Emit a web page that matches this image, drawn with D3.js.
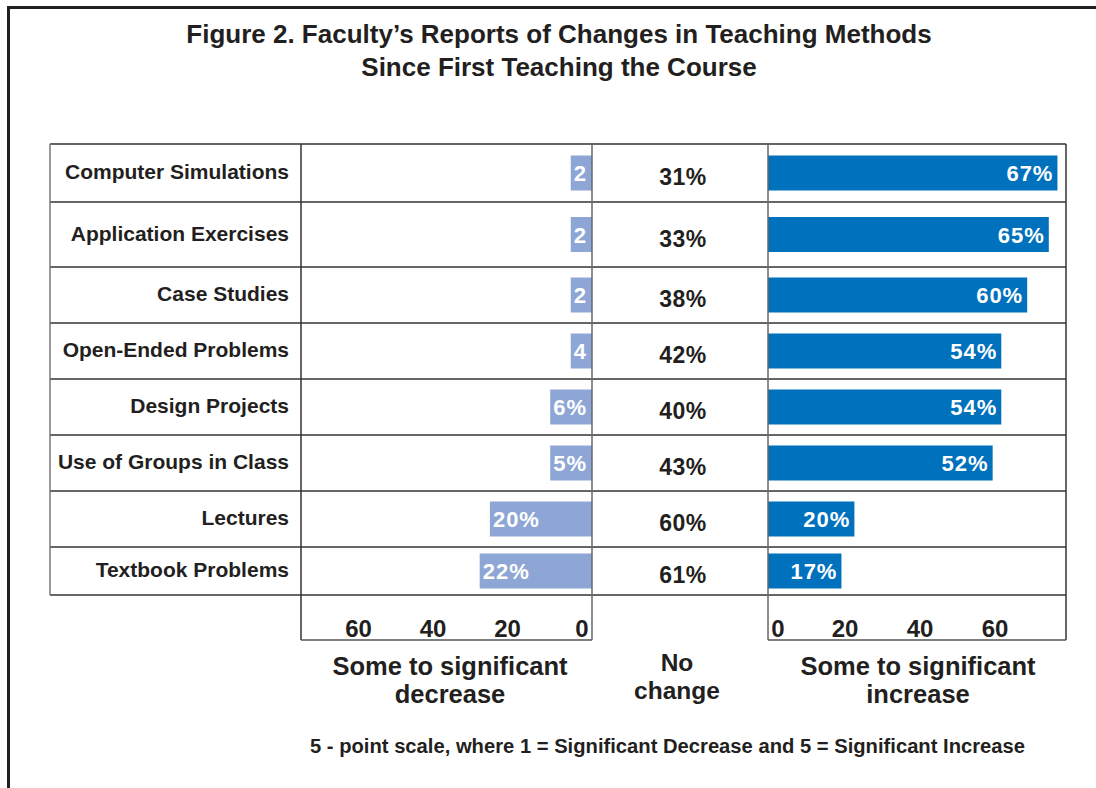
<!DOCTYPE html>
<html>
<head>
<meta charset="utf-8">
<script src="https://cdn.jsdelivr.net/npm/d3@7"></script>
<style>
  html, body { margin: 0; padding: 0; background: #fff; }
  svg { display: block; font-family: "Liberation Sans", Arial, Helvetica, sans-serif; }
</style>
</head>
<body>
<svg id="chart" width="1096" height="788"></svg>
<script>
// ---- data ----
const categories = ["Computer Simulations", "Application Exercises", "Case Studies", "Open-Ended Problems",
                    "Design Projects", "Use of Groups in Class", "Lectures", "Textbook Problems"];
const decreaseValues = [2, 2, 2, 4, 6, 5, 20, 22];
const decreaseLabels = ["2", "2", "2", "4", "6%", "5%", "20%", "22%"];
const noChangeValues = [31, 33, 38, 42, 40, 43, 60, 61];
const increaseValues = [67, 65, 60, 54, 54, 52, 20, 17];
const axisTicks = [0, 20, 40, 60];
const title = ["Figure 2. Faculty\u2019s Reports of Changes in Teaching Methods", "Since First Teaching the Course"];
const footnote = "5 - point scale, where 1 = Significant Decrease and 5 = Significant Increase";

// ---- layout ----
const W = 1096, H = 788;
const tableTop = 144;
const rowWeights = [58, 65, 56, 56, 56, 56, 56, 48];
const edges = [tableTop, ...Array.from(d3.cumsum(rowWeights), d => tableTop + d)];
const tableBottom = edges[edges.length - 1];
const axisBottom = 640;
const xLabelRight = 289, xLeftPanel = 301, xZero = 592, xMidRight = 768, xRightEnd = 1066, xTableLeft = 50;
const barH = 35;
const ink = "#231f20";
const lineCol = "#333";
const colDec = "#8ea6d5";
const colInc = "#0071bc";

const svg = d3.select("#chart");

const yCenter = d3.scaleOrdinal().domain(categories)
  .range(categories.map((c, i) => (edges[i] + edges[i + 1]) / 2));

// bar scales
const xDec = d3.scaleLinear().domain([0, 57]).range([xZero, xLeftPanel]);
const xInc = d3.scaleLinear().domain([0, 70]).range([xMidRight, xMidRight + 70 * 4.32]);
// axis label scales (as printed in the reference)
const xDecAxis = d3.scaleLinear().domain([0, 60]).range([582, 358.5]);
const xIncAxis = d3.scaleLinear().domain([0, 60]).range([770, 995]);

// ---- outer frame ----
svg.append("line").attr("x1", 8).attr("x2", W).attr("y1", 7.5).attr("y2", 7.5)
  .attr("stroke", ink).attr("stroke-width", 3);
svg.append("line").attr("x1", 8.5).attr("x2", 8.5).attr("y1", 6).attr("y2", H)
  .attr("stroke", ink).attr("stroke-width", 3);

// ---- title ----
svg.selectAll("text.title").data(title).join("text")
  .attr("class", "title")
  .attr("x", 559).attr("y", (d, i) => 43 + i * 33)
  .attr("text-anchor", "middle")
  .attr("font-size", 26).attr("font-weight", "bold").attr("fill", ink)
  .text(d => d);

// ---- left bars (decrease) ----
const gDec = svg.append("g");
const decG = gDec.selectAll("g").data(categories).join("g");
const decText = decG.append("text")
  .attr("y", c => yCenter(c) + 8)
  .attr("font-size", 22).attr("font-weight", "bold").attr("fill", "#fff")
  .attr("letter-spacing", 1)
  .text((c, i) => decreaseLabels[i]);
decText.each(function(c, i) {
  const tw = this.getComputedTextLength();
  const w = Math.max(xZero - xDec(decreaseValues[i]), tw + 8);
  const x0 = xZero - w;
  d3.select(this.parentNode).insert("rect", "text")
    .attr("x", x0).attr("y", yCenter(c) - barH / 2).attr("width", w).attr("height", barH)
    .attr("fill", colDec);
  d3.select(this).attr("x", x0 + 3);
});

// ---- right bars (increase) ----
const gInc = svg.append("g");
gInc.selectAll("rect").data(categories).join("rect")
  .attr("x", xInc(0)).attr("y", c => yCenter(c) - barH / 2)
  .attr("width", (c, i) => Math.min(xInc(increaseValues[i]), xRightEnd) - xInc(0)).attr("height", barH)
  .attr("fill", colInc);
gInc.selectAll("text").data(categories).join("text")
  .attr("x", (c, i) => Math.min(xInc(increaseValues[i]), xRightEnd) - 4)
  .attr("y", c => yCenter(c) + 8)
  .attr("text-anchor", "end")
  .attr("font-size", 22).attr("font-weight", "bold").attr("fill", "#fff")
  .attr("letter-spacing", 1)
  .text((c, i) => increaseValues[i] + "%");

// ---- no change column ----
svg.append("g").selectAll("text").data(categories).join("text")
  .attr("x", 683).attr("y", c => yCenter(c) + 12)
  .attr("text-anchor", "middle")
  .attr("font-size", 23).attr("font-weight", "bold").attr("fill", ink)
  .attr("letter-spacing", 0.5)
  .text((c, i) => noChangeValues[i] + "%");

// ---- category labels ----
svg.append("g").selectAll("text").data(categories).join("text")
  .attr("x", xLabelRight).attr("y", c => yCenter(c) + 6)
  .attr("text-anchor", "end")
  .attr("font-size", 21).attr("font-weight", "bold").attr("fill", ink)
  .text(c => c);

// ---- grid lines ----
const gl = svg.append("g").attr("stroke", lineCol).attr("stroke-width", 1.5).attr("fill", "none");
gl.selectAll("line.h").data(edges).join("line").attr("class", "h")
  .attr("x1", xTableLeft).attr("x2", xRightEnd).attr("y1", d => d).attr("y2", d => d);
gl.append("line").attr("x1", xTableLeft).attr("x2", xTableLeft).attr("y1", tableTop).attr("y2", tableBottom)
  .attr("stroke", "#777");
[xLeftPanel, xZero, xMidRight, xRightEnd].forEach((x, i) => {
  gl.append("line").attr("x1", x).attr("x2", x).attr("y1", tableTop).attr("y2", axisBottom)
    .attr("stroke", (i === 1 || i === 2) ? "#666" : lineCol);
});
gl.append("line").attr("x1", xLeftPanel).attr("x2", xZero).attr("y1", axisBottom).attr("y2", axisBottom).attr("stroke", "#555");
gl.append("line").attr("x1", xMidRight).attr("x2", xRightEnd).attr("y1", axisBottom).attr("y2", axisBottom).attr("stroke", "#555");

// ---- axis tick labels ----
svg.append("g").selectAll("text").data(axisTicks).join("text")
  .attr("x", d => xDecAxis(d)).attr("y", 637)
  .attr("text-anchor", "middle")
  .attr("font-size", 24).attr("font-weight", "bold").attr("fill", ink)
  .text(d => d);
svg.append("g").selectAll("text").data(axisTicks).join("text")
  .attr("x", d => Math.max(xIncAxis(d), 778)).attr("y", 637)
  .attr("text-anchor", "middle")
  .attr("font-size", 24).attr("font-weight", "bold").attr("fill", ink)
  .text(d => d);

// ---- column captions ----
const captions = [
  { x: 450, lines: ["Some to significant", "decrease"], y0: 675, dy: 28, fs: 25.5 },
  { x: 677, lines: ["No", "change"], y0: 671, dy: 28, fs: 24.5 },
  { x: 918, lines: ["Some to significant", "increase"], y0: 675, dy: 28, fs: 25.5 }
];
captions.forEach(cp => {
  svg.append("g").selectAll("text").data(cp.lines).join("text")
    .attr("x", cp.x).attr("y", (d, i) => cp.y0 + i * cp.dy)
    .attr("text-anchor", "middle")
    .attr("font-size", cp.fs).attr("font-weight", "bold").attr("fill", ink)
    .text(d => d);
});

// ---- footnote ----
svg.append("text")
  .attr("x", 310).attr("y", 753)
  .attr("font-family", "'Liberation Sans Narrow', 'Arial Narrow', 'Liberation Sans', Arial, sans-serif")
  .attr("font-size", 20).attr("font-weight", "bold").attr("fill", ink)
  .attr("textLength", 715).attr("lengthAdjust", "spacingAndGlyphs")
  .text(footnote);
</script>
</body>
</html>
